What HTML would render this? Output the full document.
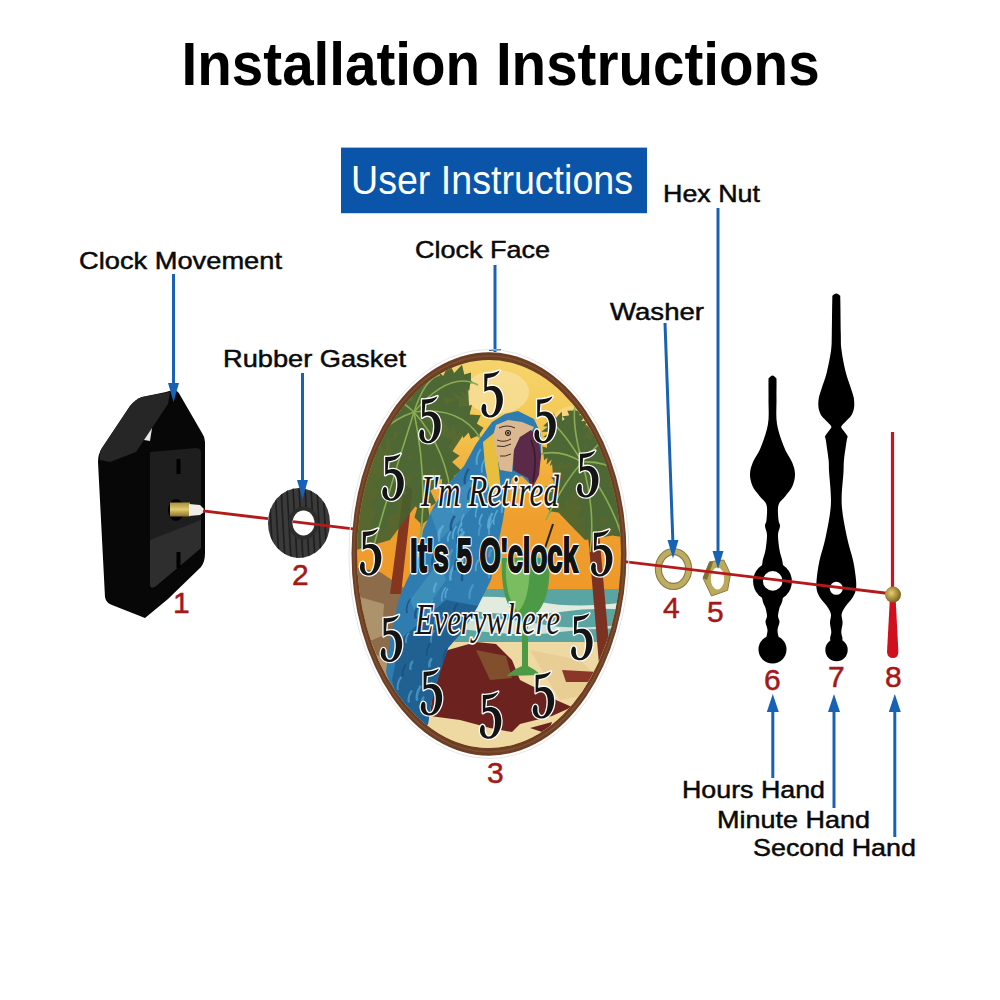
<!DOCTYPE html>
<html><head><meta charset="utf-8">
<style>
html,body{margin:0;padding:0;background:#fff;width:1000px;height:1000px;overflow:hidden}
svg{display:block}
text{font-family:"Liberation Sans",sans-serif}
.lbl{font-size:24.5px;fill:#0a0a0a;stroke:#0a0a0a;stroke-width:0.5}
.num{font-size:30px;fill:#a41818;stroke:#a41818;stroke-width:0.5}
.five{font-family:"Liberation Serif",serif;font-weight:bold;font-size:68px;fill:#151515;stroke:#fff;stroke-width:3;paint-order:stroke}
.scr{font-family:"Liberation Serif",serif;font-style:italic;fill:#151515;stroke:#fff;stroke-width:3.5;paint-order:stroke}
.bld{font-family:"Liberation Sans",sans-serif;font-weight:bold;fill:#111}
</style></head>
<body>
<svg width="1000" height="1000" viewBox="0 0 1000 1000">
<defs>
  <clipPath id="face"><ellipse cx="489" cy="554" rx="132" ry="194"/></clipPath>
  <clipPath id="gask"><ellipse cx="299" cy="523" rx="31" ry="35"/></clipPath>
  <linearGradient id="sky" x1="0" y1="0" x2="0" y2="1">
    <stop offset="0" stop-color="#f6d670"/>
    <stop offset="0.18" stop-color="#f4c852"/>
    <stop offset="0.3" stop-color="#f2ae3a"/>
    <stop offset="0.42" stop-color="#ef9e2e"/>
    <stop offset="0.6" stop-color="#ee992a"/>
  </linearGradient>
  <linearGradient id="brass" x1="0" y1="0" x2="0" y2="1">
    <stop offset="0" stop-color="#a8903a"/>
    <stop offset="0.5" stop-color="#e0cc70"/>
    <stop offset="1" stop-color="#8a7028"/>
  </linearGradient>
  <radialGradient id="ball" cx="0.4" cy="0.4" r="0.6">
    <stop offset="0" stop-color="#e8d070"/>
    <stop offset="1" stop-color="#7a6220"/>
  </radialGradient>
  <path id="f5" d="M3.4,3.2 C8,3.5 14,2.5 18.8,0 C17,4 14,6.5 9,7.2 L6.6,7.6 L5.9,16.4 C8,15.6 11,15.2 13,15.5 C18.5,16.5 22,22 22,29 C22,39 16.5,47 9.5,47 C5,47 1,44.5 0.6,39.5 C0.4,36.5 1.5,33.2 3,33.2 C4.6,33.2 5.6,35 5.3,37.2 C5,40 6,44.8 9.6,44.8 C13.5,44.8 15.6,37 15.6,30 C15.6,22 12.2,19.4 8.6,19.4 C6.6,19.4 4.6,20.4 3.4,21.5 Z" fill="#141414" stroke="#fff" stroke-width="2.6" stroke-linejoin="round" paint-order="stroke"/>
  <clipPath id="parrot"><path d="M518,411 L534,419 L541,434 L541,457 L533,487 L522,476 L512,478 L506,500 L503,520 L497,550 L491,580 L478,606 L462,632 L448,648 L440,672 L432,700 L428,724 L418,738 L408,726 L396,704 L386,672 L390,640 L398,602 L406,582 L419,556 L423,530 L432,510 L446,486 L464,466 L476,444 L492,422 L505,414 Z"/></clipPath>
</defs>

<!-- Title -->
<text x="181.6" y="85" font-weight="bold" font-size="61.5" fill="#000" textLength="638" lengthAdjust="spacingAndGlyphs">Installation Instructions</text>

<!-- User Instructions box -->
<rect x="341" y="147.6" width="306" height="65.6" fill="#0a55a9"/>
<text x="351" y="194" font-size="40" fill="#fff" textLength="282" lengthAdjust="spacingAndGlyphs">User Instructions</text>

<!-- Labels -->
<text class="lbl" x="663" y="202.3" textLength="97" lengthAdjust="spacingAndGlyphs">Hex Nut</text>
<text class="lbl" x="415" y="257.5" textLength="135" lengthAdjust="spacingAndGlyphs">Clock Face</text>
<text class="lbl" x="79" y="268.7" textLength="203" lengthAdjust="spacingAndGlyphs">Clock Movement</text>
<text class="lbl" x="610" y="319.6" textLength="94" lengthAdjust="spacingAndGlyphs">Washer</text>
<text class="lbl" x="223" y="367.3" textLength="183" lengthAdjust="spacingAndGlyphs">Rubber Gasket</text>
<text class="lbl" x="682" y="798" textLength="143" lengthAdjust="spacingAndGlyphs">Hours Hand</text>
<text class="lbl" x="717" y="827.7" textLength="153" lengthAdjust="spacingAndGlyphs">Minute Hand</text>
<text class="lbl" x="753" y="856.3" textLength="163" lengthAdjust="spacingAndGlyphs">Second Hand</text>

<!-- Clock movement -->
<g>
  <path d="M176,391 Q171,390 166,392 L142,397 Q136,399 130,406 L102,448 Q98,454 98,462 L105,597 Q106,603 112,605 L145,618 L168,599 L201,567 Q205,562 205,553 L205,442 Q205,437 202,433 L180,395 Q178,391 176,391 Z" fill="#070707"/>
  <path d="M170,392 L142,397 Q136,399 130,406 L102,448 Q99,453 100,460 L110,462 L136,452 L168,404 Z" fill="#262626"/>
  <polygon points="144,440 152,428 150,441" fill="#e8e8e8"/>
  <path d="M150,452 L196,448 Q201,448 201,453 L201,548 L156,586 Q150,590 150,584 Z" fill="#1e1e1e"/>
  <path d="M150,540 L201,520 L201,548 L156,586 Q150,590 150,584 Z" fill="#2e2e2e"/>
  <rect x="176.5" y="459" width="4" height="15" fill="#000"/>
  <rect x="176.5" y="552" width="4" height="16" fill="#000"/>
  <ellipse cx="176" cy="510" rx="8" ry="11" fill="#000"/>
  <rect x="170" y="502.5" width="20" height="14" fill="url(#brass)"/>
  <polygon points="189,504 200,505 204,509 204,512 200,515 189,516" fill="#f0ece6"/>
</g>

<!-- Gasket -->
<g>
  <ellipse cx="299" cy="523" rx="31" ry="35" fill="#3a3a3a"/>
  <g stroke="#1e1e1e" stroke-width="1.6" clip-path="url(#gask)">
    <line x1="269.0" y1="488" x2="273.0" y2="560"/><line x1="275.0" y1="488" x2="279.0" y2="560"/>
    <line x1="281.0" y1="488" x2="285.0" y2="560"/><line x1="287.0" y1="488" x2="291.0" y2="560"/>
    <line x1="293.0" y1="488" x2="297.0" y2="560"/><line x1="299.0" y1="488" x2="303.0" y2="560"/>
    <line x1="305.0" y1="488" x2="309.0" y2="560"/><line x1="311.0" y1="488" x2="315.0" y2="560"/>
    <line x1="317.0" y1="488" x2="321.0" y2="560"/><line x1="323.0" y1="488" x2="327.0" y2="560"/>
  </g>
  <ellipse cx="303.5" cy="523" rx="15" ry="16.5" fill="#2c2c2c"/>
  <ellipse cx="303.5" cy="523" rx="11" ry="12.5" fill="#fff"/>
</g>

<!-- Hands -->
<path d="M772.5,375.5 C773.7,375.5 775.3,377.1 776.0,378.0 C776.7,378.9 776.4,377.3 776.5,381.0 C776.6,384.7 776.4,392.8 776.5,400.0 C776.6,407.2 775.7,416.0 777.0,424.0 C778.3,432.0 782.0,441.7 784.5,448.0 C787.0,454.3 790.2,457.7 792.0,462.0 C793.8,466.3 794.9,470.0 795.0,474.0 C795.1,478.0 794.1,482.3 792.5,486.0 C790.9,489.7 787.8,492.8 785.5,496.0 C783.2,499.2 779.7,501.0 778.5,505.0 C777.3,509.0 778.2,516.5 778.5,520.0 C778.8,523.5 780.1,523.5 780.0,526.0 C779.9,528.5 778.1,531.0 778.0,535.0 C777.9,539.0 778.8,545.5 779.5,550.0 C780.2,554.5 781.7,556.8 782.5,562.0 C783.3,567.2 784.5,575.2 784.5,581.5 C784.5,587.8 783.3,595.6 782.5,600.0 C781.7,604.4 780.2,605.3 779.5,608.0 C778.8,610.7 778.0,613.7 778.0,616.0 C778.0,618.3 779.6,619.7 779.5,622.0 C779.4,624.3 777.7,627.0 777.5,630.0 C777.3,633.0 779.3,637.5 778.5,640.0 C777.7,642.5 774.5,645.0 772.5,645.0 C770.5,645.0 767.3,642.5 766.5,640.0 C765.7,637.5 767.7,633.0 767.5,630.0 C767.3,627.0 765.6,624.3 765.5,622.0 C765.4,619.7 767.0,618.3 767.0,616.0 C767.0,613.7 766.2,610.7 765.5,608.0 C764.8,605.3 763.3,604.4 762.5,600.0 C761.7,595.6 760.5,587.8 760.5,581.5 C760.5,575.2 761.7,567.2 762.5,562.0 C763.3,556.8 764.8,554.5 765.5,550.0 C766.2,545.5 767.1,539.0 767.0,535.0 C766.9,531.0 765.1,528.5 765.0,526.0 C764.9,523.5 766.2,523.5 766.5,520.0 C766.8,516.5 767.7,509.0 766.5,505.0 C765.3,501.0 761.8,499.2 759.5,496.0 C757.2,492.8 754.1,489.7 752.5,486.0 C750.9,482.3 749.9,478.0 750.0,474.0 C750.1,470.0 751.2,466.3 753.0,462.0 C754.8,457.7 758.0,454.3 760.5,448.0 C763.0,441.7 766.7,432.0 768.0,424.0 C769.3,416.0 768.4,407.2 768.5,400.0 C768.6,392.8 768.4,384.7 768.5,381.0 C768.6,377.3 768.3,378.9 769.0,378.0 C769.7,377.1 771.3,375.5 772.5,375.5 Z" fill="#000"/>
<circle cx="772.5" cy="581.5" r="19.4" fill="#000"/>
<circle cx="772.5" cy="649.5" r="14" fill="#000"/>
<circle cx="772.7" cy="580.9" r="9.8" fill="#fff"/>
<path d="M836.3,293.5 C837.5,293.5 839.1,294.6 839.8,295.5 C840.5,296.4 840.1,292.6 840.3,299.0 C840.5,305.4 840.6,325.5 840.8,334.0 C841.0,342.5 840.7,343.7 841.5,350.0 C842.3,356.3 844.1,365.7 845.7,372.0 C847.2,378.3 849.5,383.8 850.8,388.0 C852.1,392.2 853.0,394.2 853.6,397.0 C854.2,399.8 854.3,402.7 854.3,405.0 C854.2,407.3 853.9,409.2 853.3,411.0 C852.7,412.8 852.2,414.2 850.9,416.0 C849.6,417.8 847.1,420.0 845.7,421.5 C844.3,423.0 843.0,424.0 842.3,425.0 C841.6,426.0 841.0,426.5 841.3,427.5 C841.5,428.5 842.8,429.5 843.8,431.0 C844.8,432.5 847.1,435.0 847.6,436.5 C848.1,438.0 847.4,436.1 846.8,440.0 C846.2,443.9 844.5,454.7 844.0,460.0 C843.5,465.3 843.9,464.7 843.5,472.0 C843.1,479.3 841.2,493.3 841.7,504.0 C842.2,514.7 844.8,526.4 846.7,536.0 C848.6,545.6 851.8,554.3 853.3,561.6 C854.8,568.9 855.6,575.3 856.0,580.0 C856.4,584.7 856.4,587.0 855.8,590.0 C855.2,593.0 854.0,595.3 852.3,598.0 C850.6,600.7 847.6,603.3 845.8,606.0 C844.0,608.7 842.2,611.2 841.7,614.0 C841.2,616.8 842.7,620.0 842.6,623.0 C842.5,626.0 841.3,629.2 841.3,632.0 C841.2,634.8 843.1,637.8 842.3,640.0 C841.5,642.2 838.3,645.0 836.3,645.0 C834.3,645.0 831.1,642.2 830.3,640.0 C829.5,637.8 831.3,634.8 831.3,632.0 C831.2,629.2 830.1,626.0 830.0,623.0 C829.9,620.0 831.4,616.8 830.9,614.0 C830.4,611.2 828.6,608.7 826.8,606.0 C825.0,603.3 822.0,600.7 820.3,598.0 C818.6,595.3 817.4,593.0 816.8,590.0 C816.2,587.0 816.2,584.7 816.6,580.0 C817.0,575.3 817.8,568.9 819.3,561.6 C820.8,554.3 824.0,545.6 825.9,536.0 C827.8,526.4 830.4,514.7 830.9,504.0 C831.4,493.3 829.5,479.3 829.1,472.0 C828.7,464.7 829.1,465.3 828.6,460.0 C828.0,454.7 826.4,443.9 825.8,440.0 C825.2,436.1 824.5,438.0 825.0,436.5 C825.5,435.0 827.8,432.5 828.8,431.0 C829.8,429.5 831.0,428.5 831.3,427.5 C831.5,426.5 831.0,426.0 830.3,425.0 C829.6,424.0 828.3,423.0 826.9,421.5 C825.5,420.0 823.0,417.8 821.7,416.0 C820.4,414.2 819.9,412.8 819.3,411.0 C818.7,409.2 818.3,407.3 818.3,405.0 C818.2,402.7 818.4,399.8 819.0,397.0 C819.6,394.2 820.5,392.2 821.8,388.0 C823.1,383.8 825.4,378.3 826.9,372.0 C828.4,365.7 830.3,356.3 831.1,350.0 C831.9,343.7 831.6,342.5 831.8,334.0 C832.0,325.5 832.1,305.4 832.3,299.0 C832.5,292.6 832.1,296.4 832.8,295.5 C833.5,294.6 835.1,293.5 836.3,293.5 Z" fill="#000"/>
<circle cx="836.5" cy="650" r="11.2" fill="#000"/>
<circle cx="836.3" cy="588.3" r="6.5" fill="#fff"/>

<!-- Washer & hex nut -->
<ellipse cx="673.5" cy="569" rx="15.1" ry="17.4" fill="none" stroke="#8c7c3c" stroke-width="7.2"/>
<ellipse cx="673.5" cy="569" rx="15.1" ry="17.4" fill="none" stroke="#bcac64" stroke-width="5"/>
<polygon points="703,578 709.6,561.8 723.8,560 730.5,574 727.6,590.3 711.5,596" fill="#bba95e" stroke="#8c7c3c" stroke-width="1"/>
<polygon points="703,578 709.6,561.8 713,562 707,580" fill="#7d6e34"/>
<ellipse cx="717.5" cy="578.5" rx="6.7" ry="11" fill="#fff"/>

<!-- Blue arrows -->
<g stroke="#1862b6" stroke-width="3" fill="none">
  <line x1="173.5" y1="274" x2="173.5" y2="388"/>
  <line x1="302.5" y1="373" x2="302.5" y2="484"/>
  <line x1="495" y1="265" x2="495" y2="352"/>
  <line x1="665" y1="323" x2="673" y2="545"/>
  <line x1="718" y1="208" x2="718" y2="556"/>
  <line x1="772.8" y1="705" x2="772.8" y2="778"/>
  <line x1="834" y1="705" x2="834" y2="808"/>
  <line x1="894.8" y1="705" x2="894.8" y2="837"/>
</g>
<g fill="#1862b6">
  <polygon points="168,383 179,383 173.5,402"/>
  <polygon points="297,480 308,480 302.5,499"/>
  <polygon points="667.5,540 678.5,540 673,558.5"/>
  <polygon points="712.5,551 723.5,551 718,569"/>
  <polygon points="766.8,712 778.8,712 772.8,694"/>
  <polygon points="828,712 840,712 834,694"/>
  <polygon points="888.8,712 900.8,712 894.8,694"/>
  <rect x="489" y="349" width="12" height="2"/>
</g>

<!-- Red axis line -->
<g stroke="#b51a1a" stroke-width="2.8"><line x1="203" y1="510.9" x2="268" y2="518.7"/><line x1="293" y1="521.7" x2="893" y2="594"/></g>

<!-- Clock face -->
<g>
  <ellipse cx="489" cy="554" rx="140" ry="204.5" fill="none" stroke="#e6e6e6" stroke-width="1"/>
  <ellipse cx="489" cy="554" rx="137.5" ry="201.7" fill="#6c3e24"/>
  <ellipse cx="489" cy="554" rx="135" ry="198" fill="none" stroke="#8a5a3c" stroke-width="1.5" opacity="0.6"/>
  <g clip-path="url(#face)">
    <rect x="350" y="350" width="290" height="410" fill="url(#sky)"/>
    <ellipse cx="497" cy="392" rx="32" ry="22" fill="#f7e0a0" opacity="0.75"/>
    <ellipse cx="575" cy="420" rx="22" ry="14" fill="#f7dc98" opacity="0.6"/>
    <!-- sea -->
    <rect x="455" y="589" width="190" height="56" fill="#5aa4a4"/>
    <path d="M455,598 Q500,594 540,602 T640,600 L640,611 Q600,606 560,612 T455,609 Z" fill="#e2ebdd"/>
    <path d="M455,620 Q500,616 540,624 T640,622 L640,630 Q600,626 560,632 T455,628 Z" fill="#d2e2d6"/>
    <!-- sand -->
    <path d="M350,642 L455,642 L640,642 L640,760 L350,760 Z" fill="#eed9a2"/>
    <path d="M530,650 L580,660 L610,690 L560,700 Z" fill="#e6c890" opacity="0.7"/>
    <!-- left khaki rock -->
    <path d="M350,566 L380,572 L404,588 L404,640 L396,690 L380,712 L350,716 Z" fill="#8c6c4a"/>
    <path d="M356,596 L384,604 L382,636 L358,646 Z" fill="#b8a078" opacity="0.75"/>
    <path d="M360,660 L392,652 L388,690 L362,700 Z" fill="#c8b080" opacity="0.6"/>
    <!-- left palm trunk -->
    <path d="M404,486 L413,486 L401,594 L390,594 Z" fill="#86361f"/>
    <!-- left palm fronds -->
    <path d="M356,450 L380,410 L420,385 L468,385 L470,425 L440,470 L420,500 L390,540 L356,550 Z" fill="#46602f" opacity="0.9"/>
    <path d="M414.0,412.0 L428.0,408.9 L430.7,403.5 L444.8,403.1 L442.6,396.9 L456.5,399.6 L452.1,392.6 L463.7,397.7 L459.3,389.8 L467.3,395.6 L464.9,387.4 L469.3,390.7 L470.2,383.5 L474.0,383.1 L478.0,385.0 L478.0,385.0 L474.0,383.1 L470.9,380.6 L471.0,372.5 L464.3,374.5 L462.0,364.8 L454.2,372.9 L449.3,363.6 L443.1,375.9 L436.3,368.8 L432.1,383.1 L424.8,380.2 L422.0,394.5 L415.9,397.6 L414.0,412.0Z" fill="#4d6834"/>
    <path d="M414.0,412.0 L425.5,418.6 L430.8,416.7 L440.4,425.6 L443.3,420.3 L450.5,431.5 L453.1,424.3 L457.4,435.9 L461.1,428.4 L463.3,438.3 L468.6,432.4 L470.8,438.7 L477.2,435.9 L481.1,439.5 L484.0,445.0 L484.0,445.0 L481.1,439.5 L479.4,434.3 L483.5,427.7 L476.8,423.7 L480.8,415.3 L469.5,414.5 L472.0,404.9 L458.9,407.8 L458.7,398.5 L445.7,404.5 L442.4,397.6 L430.8,405.2 L424.4,403.3 L414.0,412.0Z" fill="#4d6834"/>
    <path d="M414.0,412.0 L415.2,425.3 L420.2,428.9 L419.4,442.7 L426.1,442.6 L423.4,456.8 L431.5,455.4 L427.9,468.6 L436.8,467.5 L433.6,478.9 L442.2,479.3 L441.5,488.0 L449.0,490.5 L451.3,497.2 L452.0,505.0 L452.0,505.0 L451.3,497.2 L451.7,490.1 L458.0,484.7 L453.8,476.4 L461.2,470.6 L452.1,462.1 L459.6,455.7 L447.4,448.0 L453.4,440.9 L439.9,434.5 L442.8,427.2 L429.4,422.1 L427.1,415.7 L414.0,412.0Z" fill="#4d6834"/>
    <path d="M414.0,412.0 L409.6,426.4 L412.8,434.7 L407.1,448.9 L413.4,454.7 L406.4,468.8 L414.2,473.4 L407.2,486.6 L415.5,491.0 L409.7,502.7 L417.2,507.7 L414.5,517.4 L420.5,523.2 L421.0,531.4 L420.0,540.0 L420.0,540.0 L421.0,531.4 L423.0,523.4 L429.9,518.2 L428.2,508.0 L436.1,502.8 L430.3,490.7 L438.5,485.1 L430.3,472.3 L437.4,465.8 L427.9,453.0 L432.6,445.4 L423.2,433.0 L423.4,423.9 L414.0,412.0Z" fill="#4d6834"/>
    <path d="M414.0,412.0 L402.4,423.0 L401.4,432.5 L389.2,443.8 L392.8,452.6 L379.8,464.2 L385.9,472.7 L373.7,484.3 L380.6,492.6 L370.7,503.9 L377.0,512.4 L371.4,523.0 L376.3,531.8 L374.9,541.7 L372.0,552.0 L372.0,552.0 L374.9,541.7 L378.9,532.5 L387.6,527.7 L388.5,515.7 L398.3,512.1 L396.1,497.2 L406.4,494.1 L402.6,477.8 L412.3,474.2 L408.0,457.4 L416.0,452.2 L412.4,436.0 L417.0,427.7 L414.0,412.0Z" fill="#4d6834"/>
    <path d="M414.0,412.0 L402.6,408.8 L398.6,412.8 L386.2,411.1 L386.2,418.0 L373.0,417.7 L375.9,425.6 L363.4,427.5 L367.9,435.2 L357.6,439.0 L362.4,446.0 L356.5,451.5 L360.4,457.8 L358.8,463.7 L356.0,470.0 L356.0,470.0 L358.8,463.7 L362.6,458.9 L369.6,459.5 L371.5,452.3 L378.5,455.3 L379.1,445.0 L385.5,449.6 L386.5,437.7 L392.0,442.5 L394.4,430.2 L399.0,433.4 L403.2,422.2 L407.9,421.9 L414.0,412.0Z" fill="#4d6834"/>
    <path d="M414.0,412.0 L412.6,402.3 L409.0,401.5 L407.2,391.6 L403.1,395.1 L400.7,384.9 L396.9,390.9 L393.6,381.8 L390.8,389.1 L386.8,382.5 L385.3,389.7 L381.7,387.4 L381.6,393.5 L380.0,394.7 L378.0,395.0 L378.0,395.0 L380.0,394.7 L381.6,395.7 L380.0,401.3 L383.1,399.5 L379.7,405.5 L385.8,401.7 L381.5,407.6 L389.9,403.7 L385.9,409.0 L395.6,406.1 L393.3,410.4 L403.0,409.0 L404.3,412.0 L414.0,412.0Z" fill="#4d6834"/>
    <path d="M414.0,412.0 L422.0,406.5 L422.0,402.5 L430.7,398.2 L427.3,395.0 L436.6,392.1 L431.5,389.2 L440.2,387.9 L434.5,384.8 L441.3,384.7 L436.4,381.2 L439.9,381.1 L436.7,377.2 L437.9,375.6 L440.0,375.0 L440.0,375.0 L437.9,375.6 L435.8,375.3 L432.8,370.7 L430.5,374.4 L425.8,369.7 L425.1,377.1 L419.2,373.1 L420.3,382.3 L414.2,380.0 L416.5,389.8 L411.3,389.8 L414.0,399.3 L411.1,402.7 L414.0,412.0Z" fill="#4d6834"/>
    <path d="M414,412 Q450,370 478,385" stroke="#8cab52" stroke-width="1.6" fill="none"/>
    <path d="M414,412 Q465,405 484,445" stroke="#8cab52" stroke-width="1.6" fill="none"/>
    <path d="M414,412 Q448,450 452,505" stroke="#8cab52" stroke-width="1.6" fill="none"/>
    <path d="M414,412 Q428,480 420,540" stroke="#8cab52" stroke-width="1.6" fill="none"/>
    <path d="M414,412 Q392,480 372,552" stroke="#8cab52" stroke-width="1.6" fill="none"/>
    <path d="M414,412 Q375,425 356,470" stroke="#8cab52" stroke-width="1.6" fill="none"/>
    <path d="M414,412 Q392,392 378,395" stroke="#8cab52" stroke-width="1.6" fill="none"/>
    <path d="M414,412 Q425,378 440,375" stroke="#8cab52" stroke-width="1.6" fill="none"/>
    <!-- right palm trunk -->
    <path d="M585,498 L596,498 L614,700 L602,700 Z" fill="#7c3222"/>
    <!-- right palm fronds -->
    <path d="M550,440 L575,418 L610,440 L626,490 L616,535 L585,540 L556,510 Z" fill="#46602f" opacity="0.9"/>
    <path d="M582.0,462.0 L583.4,449.6 L579.1,446.5 L580.6,433.9 L574.2,435.4 L575.8,422.5 L568.6,426.9 L569.3,414.9 L562.4,421.1 L561.8,411.6 L556.0,418.0 L553.8,413.2 L549.7,419.1 L547.2,419.2 L545.0,418.0 L545.0,418.0 L547.2,419.2 L548.1,421.3 L543.2,426.3 L547.9,426.8 L541.3,431.8 L550.4,432.0 L543.1,437.0 L554.8,437.8 L548.5,442.7 L561.2,444.6 L557.3,449.5 L569.5,452.7 L570.4,457.6 L582.0,462.0Z" fill="#4d6834"/>
    <path d="M582.0,462.0 L586.0,452.1 L583.5,448.4 L588.5,438.7 L583.2,437.7 L589.3,428.3 L582.5,428.7 L588.5,420.4 L581.2,421.3 L586.1,414.7 L579.3,415.2 L581.4,410.9 L575.6,410.6 L574.6,407.9 L575.0,405.0 L575.0,405.0 L574.6,407.9 L573.3,410.4 L567.3,410.8 L569.3,415.5 L562.2,416.2 L567.8,422.5 L560.2,423.9 L568.1,430.9 L561.4,433.2 L570.2,440.3 L565.6,443.7 L574.2,450.5 L573.7,455.3 L582.0,462.0Z" fill="#4d6834"/>
    <path d="M582.0,462.0 L592.8,460.3 L594.0,456.4 L605.1,455.8 L602.1,451.1 L613.5,451.7 L608.2,446.6 L618.6,448.0 L612.5,442.6 L620.4,444.3 L615.0,438.9 L619.0,439.4 L615.2,434.2 L616.1,432.6 L618.0,432.0 L618.0,432.0 L616.1,432.6 L614.1,432.0 L611.7,425.8 L609.2,429.6 L605.3,422.6 L603.4,430.8 L598.5,423.9 L597.5,434.6 L592.1,429.1 L591.7,440.8 L586.5,438.0 L586.3,449.3 L582.3,451.0 L582.0,462.0Z" fill="#4d6834"/>
    <path d="M582.0,462.0 L591.3,469.6 L595.1,468.2 L602.2,477.9 L604.2,472.6 L608.6,484.2 L610.7,476.9 L612.2,488.2 L615.8,480.6 L615.6,489.9 L620.9,484.0 L621.3,489.7 L627.6,487.0 L630.4,490.2 L632.0,495.0 L632.0,495.0 L630.4,490.2 L630.1,485.8 L635.7,480.9 L630.4,476.8 L636.4,470.0 L626.2,468.2 L631.1,459.7 L618.7,461.3 L620.8,452.5 L608.4,457.2 L607.1,450.2 L596.2,456.7 L591.5,454.3 L582.0,462.0Z" fill="#4d6834"/>
    <path d="M582.0,462.0 L583.0,475.1 L588.1,479.4 L587.8,492.8 L594.7,493.5 L593.0,507.2 L600.9,506.2 L598.7,519.0 L607.0,517.6 L605.3,528.5 L613.3,528.0 L613.6,535.7 L620.7,536.7 L623.5,541.9 L625.0,548.0 L625.0,548.0 L623.5,541.9 L623.0,535.9 L628.2,530.7 L623.5,524.0 L629.7,518.2 L620.5,511.4 L626.8,505.0 L615.0,498.6 L620.0,491.7 L607.1,485.9 L609.4,478.8 L596.8,473.5 L594.3,466.8 L582.0,462.0Z" fill="#4d6834"/>
    <path d="M582.0,462.0 L578.5,473.5 L581.5,479.0 L576.8,490.4 L582.4,493.4 L576.5,504.6 L583.5,506.5 L577.4,516.9 L584.9,518.7 L579.9,527.5 L586.8,530.0 L584.5,537.0 L590.1,540.4 L590.8,546.0 L590.0,552.0 L590.0,552.0 L590.8,546.0 L592.4,540.5 L598.5,537.5 L596.8,530.0 L603.9,526.9 L598.4,517.9 L605.8,514.3 L598.0,504.8 L604.5,500.4 L595.5,491.0 L599.7,485.6 L590.8,476.8 L590.9,470.3 L582.0,462.0Z" fill="#4d6834"/>
    <path d="M582.0,462.0 L571.5,463.6 L570.6,467.6 L559.5,469.8 L562.8,474.8 L551.0,477.6 L556.7,482.9 L545.5,486.4 L552.2,491.6 L543.2,495.8 L549.3,500.8 L544.4,505.4 L549.3,510.2 L548.3,515.1 L546.0,520.0 L546.0,520.0 L548.3,515.1 L551.5,511.4 L558.1,512.5 L559.0,506.0 L566.2,508.8 L564.9,499.2 L572.2,502.9 L570.1,491.7 L576.7,495.2 L574.7,483.4 L580.1,485.3 L578.9,474.1 L582.3,472.5 L582.0,462.0Z" fill="#4d6834"/>
    <path d="M582.0,462.0 L578.7,453.0 L575.1,453.1 L570.9,443.9 L567.7,448.3 L562.5,439.1 L560.2,445.9 L554.2,438.0 L553.1,445.8 L547.1,440.5 L547.0,447.8 L542.4,446.4 L543.0,452.4 L540.9,454.1 L538.0,455.0 L538.0,455.0 L540.9,454.1 L543.5,454.6 L544.1,460.3 L547.5,457.8 L546.5,464.5 L551.9,459.3 L549.7,466.2 L557.0,460.2 L554.6,466.3 L563.3,460.9 L562.0,465.6 L571.0,461.7 L572.8,464.3 L582.0,462.0Z" fill="#4d6834"/>
    <path d="M582,462 Q560,425 545,418" stroke="#8cab52" stroke-width="1.6" fill="none"/>
    <path d="M582,462 Q572,425 575,405" stroke="#8cab52" stroke-width="1.6" fill="none"/>
    <path d="M582,462 Q605,435 618,432" stroke="#8cab52" stroke-width="1.6" fill="none"/>
    <path d="M582,462 Q622,460 632,495" stroke="#8cab52" stroke-width="1.6" fill="none"/>
    <path d="M582,462 Q615,505 625,548" stroke="#8cab52" stroke-width="1.6" fill="none"/>
    <path d="M582,462 Q596,510 590,552" stroke="#8cab52" stroke-width="1.6" fill="none"/>
    <path d="M582,462 Q562,485 546,520" stroke="#8cab52" stroke-width="1.6" fill="none"/>
    <path d="M582,462 Q558,448 538,455" stroke="#8cab52" stroke-width="1.6" fill="none"/>
    <!-- dark red rock -->
    <path d="M436,660 L448,650 L476,642 L496,644 L512,660 L520,680 L540,690 L556,700 L572,707 L552,716 L520,724 L512,732 L490,728 L460,720 L430,716 Z" fill="#6c2320"/>
    <path d="M476,650 L506,656 L512,678 L490,680 Z" fill="#8a6230" opacity="0.7"/>
    <path d="M562,670 L598,672 L596,682 L566,682 Z" fill="#8a3628"/>
    <path d="M530,728 L552,722 L548,734 Z" fill="#6c2320"/>
    <!-- glass -->
    <path d="M502,558 L549,558 Q552,600 534,616 L528,620 L528,666 Q536,670 541,675 L507,676 Q512,670 522,666 L522,620 L516,616 Q500,600 502,558 Z" fill="#4c9a46"/>
    <path d="M506,562 L530,562 Q530,600 518,612 Q504,596 506,562 Z" fill="#86c666" opacity="0.8"/>
    <ellipse cx="540" cy="551" rx="9" ry="5" fill="#9cd070"/>
    <path d="M545,548 L553,524" stroke="#222" stroke-width="2"/>
    <!-- parrot -->
    <path d="M518,411 L534,419 L541,434 L541,457 L533,487 L522,476 L512,478 L506,500 L503,520 L497,550 L491,580 L478,606 L462,632 L448,648 L440,672 L432,700 L428,724 L418,738 L408,726 L396,704 L386,672 L390,640 L398,602 L406,582 L419,556 L423,530 L432,510 L446,486 L464,466 L476,444 L492,422 L505,414 Z" fill="#2f7cb0"/>
    <path d="M446,600 L478,606 L462,632 L448,648 L440,672 L432,700 L428,724 L418,738 L400,710 L392,680 L400,640 Z" fill="#1f5d8c" opacity="0.85"/>
    <path d="M430,512 L470,480 L480,500 L440,540 Z" fill="#4a98c4" opacity="0.6"/>
    <path d="M410,600 L440,560 L446,580 L418,620 Z" fill="#4aa0c0" opacity="0.5"/>
    <g clip-path="url(#parrot)"><path d="M479.1,504.5 q-4.5,6.4 -3.2,12.8" stroke="#5cb0d6" stroke-width="1.6" fill="none" opacity="0.8"/>
    <path d="M508.5,439.8 q-3.5,4.9 -2.5,9.9" stroke="#1b4f80" stroke-width="2.4" fill="none" opacity="0.8"/>
    <path d="M465.5,567.8 q-4.6,6.5 -3.3,13.1" stroke="#1b4f80" stroke-width="2.3" fill="none" opacity="0.8"/>
    <path d="M408.2,632.1 q-4.5,6.4 -3.2,12.7" stroke="#1b4f80" stroke-width="1.5" fill="none" opacity="0.8"/>
    <path d="M420.9,685.8 q-5.3,7.5 -3.8,15.0" stroke="#4a9cc8" stroke-width="2.5" fill="none" opacity="0.8"/>
    <path d="M484.1,549.7 q-5.4,7.7 -3.9,15.5" stroke="#1b4f80" stroke-width="1.6" fill="none" opacity="0.8"/>
    <path d="M505.4,499.7 q-4.6,6.5 -3.3,13.0" stroke="#5cb0d6" stroke-width="2.1" fill="none" opacity="0.8"/>
    <path d="M452.5,549.4 q-4.4,6.3 -3.2,12.7" stroke="#4a9cc8" stroke-width="2.5" fill="none" opacity="0.8"/>
    <path d="M456.5,682.5 q-3.3,4.7 -2.3,9.3" stroke="#4a9cc8" stroke-width="2.6" fill="none" opacity="0.8"/>
    <path d="M424.0,696.7 q-3.4,4.8 -2.4,9.7" stroke="#4a9cc8" stroke-width="2.1" fill="none" opacity="0.8"/>
    <path d="M443.2,525.5 q-5.6,8.0 -4.0,15.9" stroke="#5cb0d6" stroke-width="2.4" fill="none" opacity="0.8"/>
    <path d="M436.0,551.6 q-5.0,7.1 -3.5,14.2" stroke="#1b4f80" stroke-width="2.2" fill="none" opacity="0.8"/>
    <path d="M502.3,449.9 q-5.3,7.5 -3.8,15.0" stroke="#1b4f80" stroke-width="2.6" fill="none" opacity="0.8"/>
    <path d="M440.6,528.3 q-2.9,4.1 -2.1,8.3" stroke="#5cb0d6" stroke-width="1.9" fill="none" opacity="0.8"/>
    <path d="M419.4,603.6 q-5.2,7.5 -3.7,14.9" stroke="#1b4f80" stroke-width="2.6" fill="none" opacity="0.8"/>
    <path d="M411.9,690.4 q-4.3,6.1 -3.0,12.2" stroke="#4a9cc8" stroke-width="2.2" fill="none" opacity="0.8"/>
    <path d="M457.1,603.6 q-4.2,6.0 -3.0,12.1" stroke="#1b4f80" stroke-width="2.3" fill="none" opacity="0.8"/>
    <path d="M464.4,514.2 q-4.3,6.1 -3.0,12.2" stroke="#5cb0d6" stroke-width="1.5" fill="none" opacity="0.8"/>
    <path d="M466.5,548.6 q-4.5,6.5 -3.2,12.9" stroke="#5cb0d6" stroke-width="1.6" fill="none" opacity="0.8"/>
    <path d="M440.3,618.5 q-3.8,5.4 -2.7,10.8" stroke="#4a9cc8" stroke-width="2.3" fill="none" opacity="0.8"/>
    <path d="M480.8,449.0 q-5.5,7.9 -3.9,15.7" stroke="#5cb0d6" stroke-width="2.0" fill="none" opacity="0.8"/>
    <path d="M432.7,603.8 q-3.7,5.3 -2.6,10.5" stroke="#1b4f80" stroke-width="2.2" fill="none" opacity="0.8"/>
    <path d="M462.3,528.5 q-2.9,4.1 -2.1,8.2" stroke="#5cb0d6" stroke-width="2.3" fill="none" opacity="0.8"/>
    <path d="M450.6,531.7 q-3.5,5.0 -2.5,9.9" stroke="#5cb0d6" stroke-width="2.0" fill="none" opacity="0.8"/>
    <path d="M408.8,632.6 q-3.7,5.3 -2.7,10.7" stroke="#4a9cc8" stroke-width="2.0" fill="none" opacity="0.8"/>
    <path d="M401.2,676.9 q-4.6,6.6 -3.3,13.2" stroke="#4a9cc8" stroke-width="2.0" fill="none" opacity="0.8"/>
    <path d="M455.2,503.5 q-3.3,4.8 -2.4,9.5" stroke="#4a9cc8" stroke-width="1.7" fill="none" opacity="0.8"/>
    <path d="M492.8,520.3 q-5.1,7.2 -3.6,14.5" stroke="#5cb0d6" stroke-width="1.6" fill="none" opacity="0.8"/>
    <path d="M491.2,518.1 q-3.8,5.4 -2.7,10.8" stroke="#5cb0d6" stroke-width="2.0" fill="none" opacity="0.8"/>
    <path d="M491.5,549.2 q-2.8,4.0 -2.0,8.0" stroke="#4a9cc8" stroke-width="2.6" fill="none" opacity="0.8"/>
    <path d="M491.5,568.5 q-3.4,4.9 -2.4,9.8" stroke="#4a9cc8" stroke-width="2.2" fill="none" opacity="0.8"/>
    <path d="M436.7,582.8 q-3.4,4.9 -2.5,9.8" stroke="#5cb0d6" stroke-width="2.1" fill="none" opacity="0.8"/>
    <path d="M492.5,513.1 q-5.3,7.6 -3.8,15.2" stroke="#5cb0d6" stroke-width="2.5" fill="none" opacity="0.8"/>
    <path d="M446.7,692.3 q-2.8,4.1 -2.0,8.1" stroke="#4a9cc8" stroke-width="1.7" fill="none" opacity="0.8"/>
    <path d="M481.8,524.4 q-4.0,5.7 -2.8,11.3" stroke="#4a9cc8" stroke-width="1.9" fill="none" opacity="0.8"/>
    <path d="M497.6,510.3 q-5.0,7.1 -3.6,14.3" stroke="#5cb0d6" stroke-width="1.7" fill="none" opacity="0.8"/>
    <path d="M473.4,584.4 q-5.0,7.2 -3.6,14.3" stroke="#4a9cc8" stroke-width="2.4" fill="none" opacity="0.8"/>
    <path d="M501.8,447.9 q-2.9,4.2 -2.1,8.4" stroke="#5cb0d6" stroke-width="1.8" fill="none" opacity="0.8"/>
    <path d="M445.6,587.2 q-5.0,7.1 -3.6,14.2" stroke="#5cb0d6" stroke-width="1.6" fill="none" opacity="0.8"/>
    <path d="M468.8,468.6 q-5.5,7.9 -3.9,15.8" stroke="#1b4f80" stroke-width="2.1" fill="none" opacity="0.8"/>
    <path d="M456.3,526.1 q-4.6,6.6 -3.3,13.2" stroke="#5cb0d6" stroke-width="1.9" fill="none" opacity="0.8"/>
    <path d="M471.3,487.5 q-4.4,6.2 -3.1,12.4" stroke="#1b4f80" stroke-width="1.6" fill="none" opacity="0.8"/>
    <path d="M475.1,491.7 q-5.0,7.1 -3.6,14.3" stroke="#5cb0d6" stroke-width="2.4" fill="none" opacity="0.8"/>
    <path d="M438.2,612.4 q-4.2,6.0 -3.0,12.0" stroke="#4a9cc8" stroke-width="2.0" fill="none" opacity="0.8"/>
    <path d="M434.3,630.3 q-4.3,6.1 -3.1,12.3" stroke="#4a9cc8" stroke-width="1.6" fill="none" opacity="0.8"/>
    <path d="M454.5,565.0 q-5.4,7.7 -3.9,15.5" stroke="#5cb0d6" stroke-width="2.5" fill="none" opacity="0.8"/>
    <path d="M412.7,660.9 q-3.1,4.5 -2.2,9.0" stroke="#4a9cc8" stroke-width="2.2" fill="none" opacity="0.8"/>
    <path d="M440.4,691.1 q-4.9,6.9 -3.5,13.9" stroke="#1b4f80" stroke-width="1.6" fill="none" opacity="0.8"/>
    <path d="M410.4,598.9 q-5.0,7.1 -3.5,14.2" stroke="#1b4f80" stroke-width="1.6" fill="none" opacity="0.8"/>
    <path d="M505.9,462.7 q-2.9,4.1 -2.0,8.2" stroke="#1b4f80" stroke-width="2.4" fill="none" opacity="0.8"/>
    <path d="M462.6,635.8 q-4.4,6.3 -3.2,12.6" stroke="#4a9cc8" stroke-width="1.5" fill="none" opacity="0.8"/>
    <path d="M431.7,658.3 q-3.1,4.4 -2.2,8.9" stroke="#4a9cc8" stroke-width="2.5" fill="none" opacity="0.8"/>
    <path d="M485.6,458.1 q-5.1,7.3 -3.7,14.6" stroke="#5cb0d6" stroke-width="1.7" fill="none" opacity="0.8"/>
    <path d="M482.5,514.0 q-3.9,5.6 -2.8,11.1" stroke="#5cb0d6" stroke-width="1.9" fill="none" opacity="0.8"/>
    <path d="M460.3,531.4 q-4.2,6.0 -3.0,12.0" stroke="#1b4f80" stroke-width="2.3" fill="none" opacity="0.8"/>
    <path d="M493.3,489.1 q-4.7,6.7 -3.3,13.4" stroke="#5cb0d6" stroke-width="2.0" fill="none" opacity="0.8"/>
    <path d="M469.7,614.4 q-3.1,4.4 -2.2,8.8" stroke="#4a9cc8" stroke-width="2.5" fill="none" opacity="0.8"/>
    <path d="M447.9,588.3 q-3.3,4.7 -2.4,9.5" stroke="#5cb0d6" stroke-width="1.7" fill="none" opacity="0.8"/>
    <path d="M432.9,599.7 q-4.7,6.8 -3.4,13.5" stroke="#4a9cc8" stroke-width="1.8" fill="none" opacity="0.8"/>
    <path d="M430.1,643.2 q-4.4,6.3 -3.2,12.7" stroke="#1b4f80" stroke-width="1.7" fill="none" opacity="0.8"/>
    <path d="M495.4,444.6 q-3.3,4.7 -2.3,9.4" stroke="#5cb0d6" stroke-width="1.9" fill="none" opacity="0.8"/>
    <path d="M405.8,664.6 q-4.1,5.9 -3.0,11.8" stroke="#1b4f80" stroke-width="2.0" fill="none" opacity="0.8"/>
    <path d="M447.1,674.6 q-4.1,5.9 -3.0,11.9" stroke="#4a9cc8" stroke-width="2.4" fill="none" opacity="0.8"/>
    <path d="M478.8,559.4 q-4.1,5.9 -2.9,11.7" stroke="#5cb0d6" stroke-width="1.8" fill="none" opacity="0.8"/>
    <path d="M447.4,648.3 q-5.2,7.4 -3.7,14.8" stroke="#1b4f80" stroke-width="1.7" fill="none" opacity="0.8"/>
    <path d="M454.8,515.7 q-5.2,7.4 -3.7,14.9" stroke="#1b4f80" stroke-width="2.5" fill="none" opacity="0.8"/>
    <path d="M464.1,531.4 q-3.0,4.3 -2.2,8.7" stroke="#5cb0d6" stroke-width="2.4" fill="none" opacity="0.8"/>
    <path d="M461.9,523.0 q-4.7,6.7 -3.4,13.4" stroke="#5cb0d6" stroke-width="1.9" fill="none" opacity="0.8"/>
    <path d="M457.9,557.5 q-4.4,6.3 -3.2,12.7" stroke="#1b4f80" stroke-width="2.1" fill="none" opacity="0.8"/>
    <path d="M476.8,476.0 q-3.1,4.5 -2.2,8.9" stroke="#4a9cc8" stroke-width="1.6" fill="none" opacity="0.8"/></g>
    <path d="M483,442 L494,433 L498,460 L501,492 L490,494 L485,466 Z" fill="#e8be3e"/>
    <path d="M496,425 L508,420 L522,422 L534,427 L530,434 L520,437 L514,450 L512,472 L500,470 L496,452 L493,436 Z" fill="#dcb890"/>
    <g stroke="#3a2e28" stroke-width="1" fill="none"><path d="M499,428 q8,-4 16,0"/><path d="M497,440 q7,3 14,-1"/><path d="M497,446 q7,2 14,-2"/><path d="M500,456 q5,1 11,-2"/></g>
    <circle cx="508" cy="433" r="2.6" fill="#c09070" stroke="#222" stroke-width="1"/>
    <circle cx="508" cy="433" r="1.1" fill="#222"/>
    <path d="M520,437 L531,430 L538,437 L541,455 L539,475 L532,489 L528,478 L520,474 L513,470 L514,450 Z" fill="#5a2a48"/>
    <path d="M531,440 Q538,455 533,482" stroke="#3a1830" stroke-width="1.6" fill="none"/>
  </g>
  <!-- face text -->
  <text class="scr" x="421" y="506" font-size="44" textLength="138" lengthAdjust="spacingAndGlyphs">I'm Retired</text>
  <text class="bld" x="410" y="572" font-size="48" stroke="#fff" stroke-width="5" stroke-linejoin="round" textLength="168" lengthAdjust="spacingAndGlyphs">It's 5 O'clock</text>
  <text class="bld" x="410" y="572" font-size="48" stroke="#111" stroke-width="2.2" textLength="168" lengthAdjust="spacingAndGlyphs">It's 5 O'clock</text>
  <text class="scr" x="415" y="634" font-size="44" textLength="145" lengthAdjust="spacingAndGlyphs">Everywhere</text>
  <use href="#f5" x="480.9" y="370.5"/><use href="#f5" x="418.7" y="396.2"/><use href="#f5" x="533.8" y="396.2"/><use href="#f5" x="381.8" y="453.7"/><use href="#f5" x="576.5" y="450.5"/><use href="#f5" x="359.4" y="528.5"/><use href="#f5" x="590.5" y="529.5"/><use href="#f5" x="380.2" y="614.9"/><use href="#f5" x="570.6" y="613.3"/><use href="#f5" x="420.2" y="668.5"/><use href="#f5" x="532.2" y="671.5"/><use href="#f5" x="479.4" y="691.7"/>
</g>

<!-- Second hand -->
<line x1="892.5" y1="432" x2="892.5" y2="596" stroke="#c8141e" stroke-width="3.2"/>
<path d="M890,596 L895.5,596 L898.4,652 Q898,658 893,658 Q887.5,658 887,652 Z" fill="#d0101c"/>
<circle cx="893" cy="594.6" r="8" fill="url(#ball)"/>

<!-- Red numbers -->
<text class="num" x="173" y="612.5">1</text>
<text class="num" x="292" y="585">2</text>
<text class="num" x="487" y="783">3</text>
<text class="num" x="663" y="618">4</text>
<text class="num" x="707" y="621.5">5</text>
<text class="num" x="764" y="689.6">6</text>
<text class="num" x="828" y="687">7</text>
<text class="num" x="885" y="687">8</text>

</svg>
</body></html>
